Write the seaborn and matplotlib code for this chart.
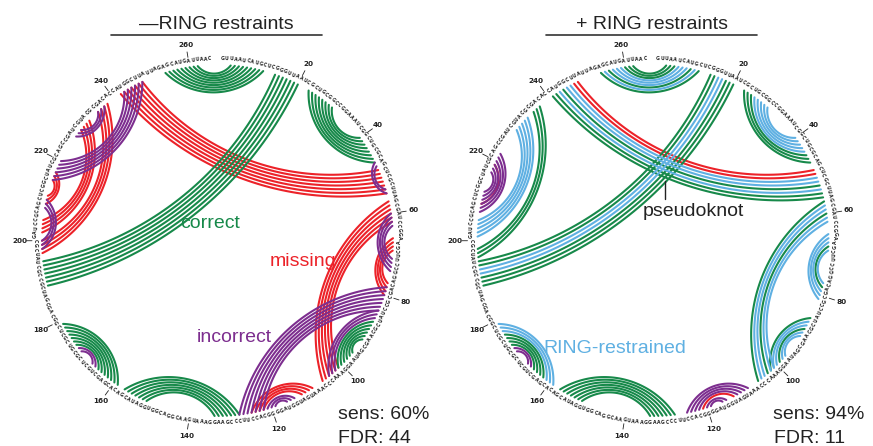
import numpy as np
import pandas as pd
import matplotlib.pyplot as plt
import seaborn as sns

# RNA sequence (5'->3'), read clockwise from the top of each circle
sequence_chunks = [
    "GUUAAUCAUG", "CUCGGGUUAA", "UCGCUGCGGC", "CGGAAAUCGG", "CUGCGCAGCU",
    "CGCUUAGCGA", "UCCGGAAGCU", "UCCGGACAGC", "GCCUAUCGCA", "AGCGAUAAGG",
    "AAACCCAAAU", "GAUGGUAGGG", "GCACCUUCCC", "GAAGGAAAUG", "AACGGACGGU",
    "GGAUACGACA", "CGAGCUGCUC", "GCGUCGCUCG", "GCAGCGAUCG", "CCGCUAUCGC",
    "GAUCCGCAGC", "UCGGCUAUCG", "CAGCCGAUCG", "UACGCGACAC", "CAUGGCUUAU",
    "UAGAGCAUGA", "UUAAC",
]
sequence = "".join(sequence_chunks)
n_nt = len(sequence)

tick_positions = list(range(20, 261, 20))

# helices: (5' nt, 3' nt, number of pairs, class of each pair)
# G = correct, R = missing, P = incorrect, B = RING-restrained
helices_minus = [
    (3, 262, 9, "GGGGGGGGG"),
    (14, 195, 7, "GGGGGGG"),
    (23, 47, 8, "GGGGGGGG"),
    (47, 55, 2, "PP"),
    (49, 248, 7, "RRRRRRR"),
    (60, 74, 4, "PPPP"),
    (66, 80, 4, "RRRR"),
    (57, 106, 6, "RRRRRR"),
    (78, 128, 7, "PPPPPPP"),
    (84, 104, 3, "PPP"),
    (87, 101, 6, "GGGGGG"),
    (109, 125, 4, "RRRR"),
    (114, 121, 3, "PPP"),
    (128, 157, 7, "GGGGGGG"),
    (159, 179, 7, "GGGGGGG"),
    (166, 172, 2, "PP"),
    (197, 238, 4, "RRRR"),
    (202, 232, 4, "RRRR"),
    (209, 217, 3, "RRR"),
    (215, 248, 6, "PPPPPP"),
    (227, 237, 3, "PPP"),
    (198, 210, 3, "PPP"),
]

helices_plus = [
    (3, 262, 9, "GGGBBBGBG"),
    (14, 195, 7, "GGBBGGG"),
    (23, 47, 8, "GGGBBBBB"),
    (49, 248, 8, "RRBBGBGG"),
    (65, 81, 5, "BBBGB"),
    (57, 106, 6, "GBBGBB"),
    (86, 102, 6, "GBBGBB"),
    (109, 125, 4, "PPPP"),
    (113, 121, 1, "R"),
    (115, 120, 2, "PP"),
    (128, 157, 7, "GGGGGGG"),
    (159, 179, 7, "BBBGGGG"),
    (166, 172, 2, "PP"),
    (196, 237, 3, "GGG"),
    (201, 233, 5, "BBBBB"),
    (207, 222, 6, "PPPPPP"),
    (209, 219, 1, "R"),
]

kind_names = {"G": "correct", "R": "missing", "P": "incorrect", "B": "RING-restrained"}
kind_colors = {"correct": "#17894a", "missing": "#ec2229",
               "incorrect": "#7d2e8f", "RING-restrained": "#5fb0e2"}

panel_titles = ["\u2014RING restraints", "+ RING restraints"]
sens_values = [60, 94]
fdr_values = [44, 11]

# layout (pixel coordinates)
centers = [(217.5, 240.5), (653.0, 240.5)]
r_arc, r_seq, r_tick0, r_tick1, r_lab = 175.5, 182.0, 185.5, 191.0, 198.0


def nt_angle(pos):
    return np.deg2rad((pos + 0.2) * 360.0 / (n_nt + 2))


def arc_xy(i, j, cx, cy, r, n=60):
    a1, a2 = nt_angle(i), nt_angle(j)
    p1 = np.array([cx + r * np.sin(a1), cy - r * np.cos(a1)])
    p2 = np.array([cx + r * np.sin(a2), cy - r * np.cos(a2)])
    m = (p1 + p2) / 2
    half = np.linalg.norm(p2 - p1) / 2
    to_c = np.array([cx, cy]) - m
    if np.linalg.norm(to_c) < 1e-6:
        u = (p2 - p1) / (2 * half)
        to_c = np.array([-u[1], u[0]])
    nrm = to_c / np.linalg.norm(to_c)
    # short chords bow more than long ones
    s = max(0.18, 0.5 - 0.0017 * half) * half
    rho = (half ** 2 + s ** 2) / (2 * s)
    o = m + nrm * (s - rho)
    f1 = np.arctan2(p1[1] - o[1], p1[0] - o[0])
    f2 = np.arctan2(p2[1] - o[1], p2[0] - o[0])
    df = (f2 - f1 + np.pi) % (2 * np.pi) - np.pi
    f = f1 + df * np.linspace(0, 1, n)
    return o[0] + rho * np.cos(f), o[1] + rho * np.sin(f)


def arcs_frame(helices, cx, cy):
    rows = []
    arc_id = 0
    for i, j, npair, kinds in helices:
        for k in range(npair):
            xs, ys = arc_xy(i + k, j - k, cx, cy, r_arc)
            for x, y in zip(xs, ys):
                rows.append((x, y, arc_id, kind_names[kinds[k]]))
            arc_id += 1
    return pd.DataFrame(rows, columns=["x", "y", "arc", "kind"])


sns.set_style("white")
plt.rcParams["font.family"] = ["Liberation Sans", "DejaVu Sans"]

fig = plt.figure(figsize=(8.73, 4.46), dpi=100)
ax = fig.add_axes([0, 0, 1, 1])
ax.set_xlim(0, 873)
ax.set_ylim(446, 0)
ax.axis("off")

for p, helices in enumerate([helices_minus, helices_plus]):
    cx, cy = centers[p]
    df = arcs_frame(helices, cx, cy)
    sns.lineplot(data=df, x="x", y="y", hue="kind", units="arc", estimator=None,
                 sort=False, palette=kind_colors,
                 hue_order=["missing", "correct", "RING-restrained", "incorrect"],
                 linewidth=1.5, legend=False, ax=ax)

    # nucleotides around the circle
    for pos, nt in enumerate(sequence, start=1):
        a = nt_angle(pos)
        deg = np.rad2deg(a)
        rot = -deg if (deg < 90 or deg > 270) else 180 - deg
        ax.text(cx + r_seq * np.sin(a), cy - r_seq * np.cos(a), nt, fontsize=3.3,
                rotation=rot, ha="center", va="center", color="#222222",
                family="DejaVu Sans", fontweight="bold")

    # position ticks
    for pos in tick_positions:
        a = nt_angle(pos)
        ax.plot([cx + r_tick0 * np.sin(a), cx + r_tick1 * np.sin(a)],
                [cy - r_tick0 * np.cos(a), cy - r_tick1 * np.cos(a)],
                color="#222222", lw=0.6)
        ax.text(cx + r_lab * np.sin(a), cy - r_lab * np.cos(a), str(pos),
                fontsize=5.2, ha="center", va="center", color="#222222",
                family="DejaVu Sans", fontweight="bold")

    # title with underline
    ax.text(cx - 1, 29, panel_titles[p], fontsize=14, ha="center", va="baseline",
            color="#222222")
    ax.plot([cx - 107, cx + 104], [35, 35], color="#333333", lw=1.2)

    ax.text(cx + 120, 419, f"sens: {sens_values[p]}%", fontsize=14,
            va="baseline", color="#222222")
    ax.text(cx + 121, 443, f"FDR: {fdr_values[p]}", fontsize=14,
            va="baseline", color="#222222")

# class labels
ax.text(180, 228, "correct", fontsize=14, color=kind_colors["correct"], va="baseline")
ax.text(270, 266, "missing", fontsize=14, color=kind_colors["missing"], va="baseline")
ax.text(197, 342, "incorrect", fontsize=14, color=kind_colors["incorrect"], va="baseline")
ax.text(543, 353, "RING-restrained", fontsize=14, color=kind_colors["RING-restrained"],
        va="baseline")
ax.text(643, 216, "pseudoknot", fontsize=14, color="#222222", va="baseline")
ax.plot([665, 665], [181, 199], color="#222222", lw=1.0)

fig.savefig("out.png", dpi=100)
